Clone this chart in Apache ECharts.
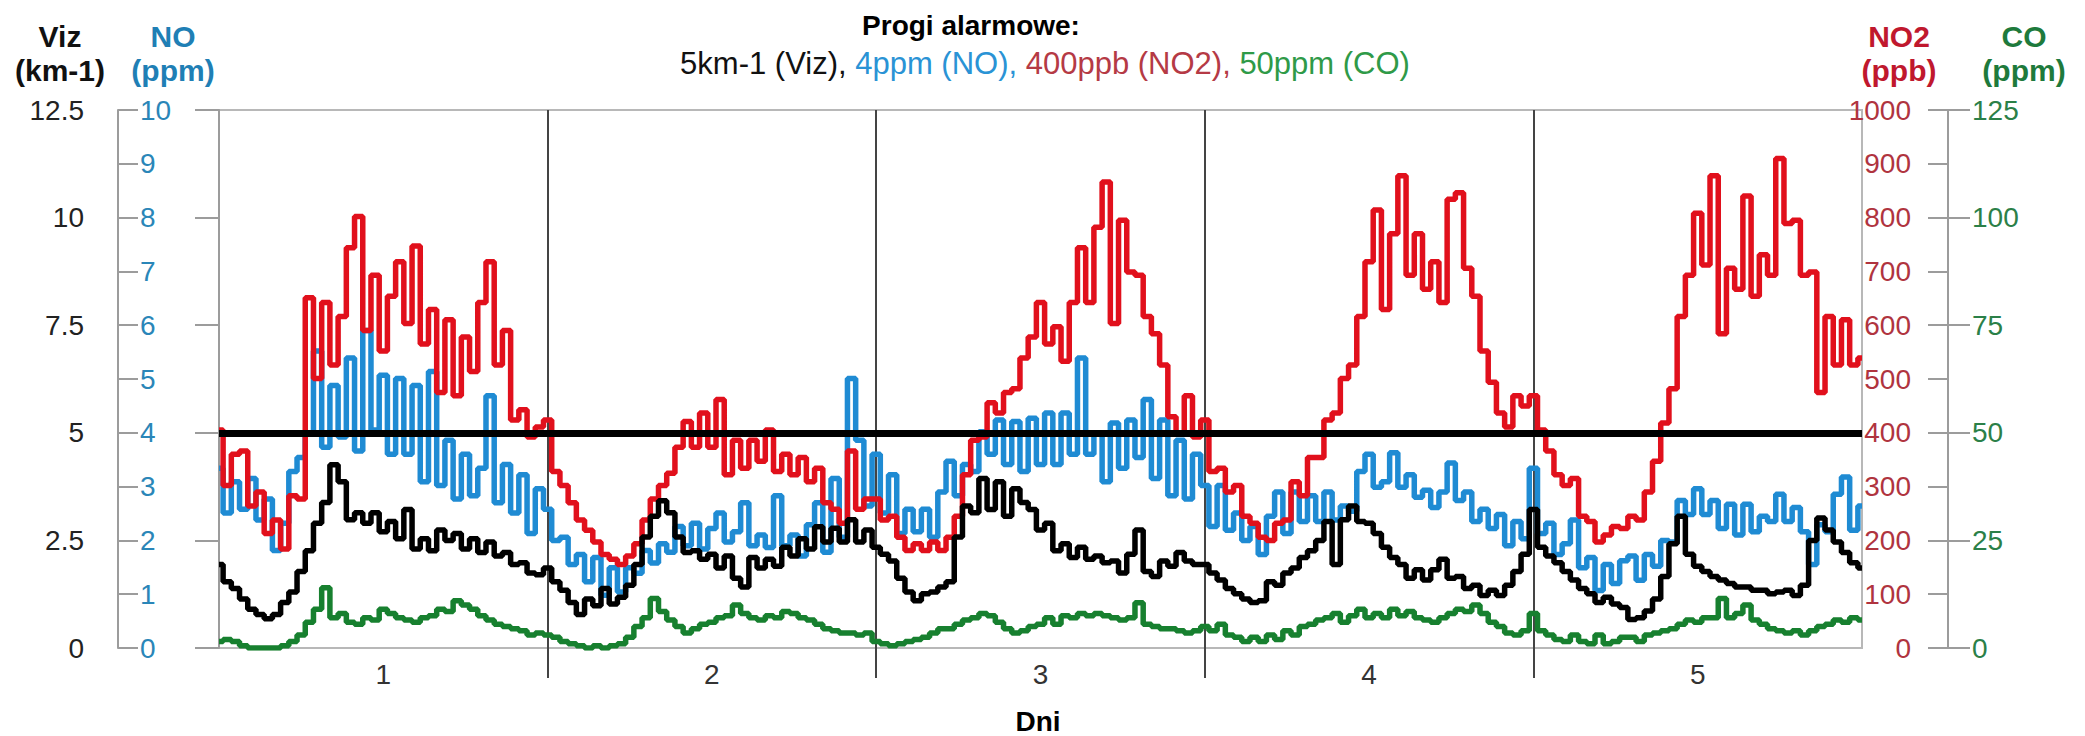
<!DOCTYPE html>
<html>
<head>
<meta charset="utf-8">
<script src="https://cdn.jsdelivr.net/npm/echarts@6/dist/echarts.min.js"></script>
<style>
  html, body { margin: 0; padding: 0; background: #fff; }
  #chart { width: 2085px; height: 736px; }
</style>
</head>
<body>
<div id="chart"></div>
<script>
// Dni (etykiety osi X)
const days = ['1', '2', '3', '4', '5'];
// 40 odczytów na dzień
const samplesPerDay = 40;

// Viz (km-1)
const viz = [
  1.94,1.54,1.38,1.14,0.90,0.78,0.68,0.78,1.06,1.30,1.78,2.26,2.90,3.38,4.26,3.86,2.98,3.14,2.90,3.14,2.70,2.94,2.54,3.22,2.30,2.54,2.26,2.74,2.50,2.66,2.30,2.54,2.22,2.46,2.14,2.22,1.94,1.98,1.74,1.70,
  1.86,1.54,1.34,1.06,0.78,1.14,0.98,1.38,1.02,1.18,1.46,1.94,2.58,3.06,3.42,3.14,2.58,2.22,2.26,2.06,2.18,1.86,2.14,1.62,1.42,2.10,1.86,2.06,1.90,2.34,2.14,2.54,2.30,2.82,2.46,2.78,2.46,2.98,2.46,2.74,
  2.34,2.18,2.02,1.62,1.30,1.10,1.26,1.30,1.42,1.54,2.58,3.30,3.14,3.94,3.22,3.86,3.06,3.70,3.38,3.22,2.74,2.90,2.26,2.42,2.10,2.34,2.06,2.14,1.98,2.02,1.74,2.18,2.74,1.78,1.66,2.02,1.90,2.22,2.02,1.94,
  1.94,1.74,1.58,1.38,1.26,1.14,1.06,1.10,1.54,1.46,1.74,1.86,2.10,2.26,2.50,2.94,1.94,2.98,3.30,2.94,2.90,2.66,2.34,2.10,1.94,1.62,1.82,1.58,1.82,2.06,1.62,1.66,1.38,1.46,1.22,1.34,1.22,1.46,1.78,2.18,
  3.22,2.34,2.14,1.98,1.78,1.58,1.38,1.26,1.06,1.18,1.02,0.94,0.66,0.70,0.86,1.14,1.66,2.42,3.06,2.18,1.90,1.78,1.66,1.58,1.50,1.42,1.42,1.34,1.34,1.26,1.30,1.34,1.22,1.46,2.50,3.02,2.74,2.46,2.22,1.98,
  1.86
];

// NO (ppm)
const no = [
  3.34,2.51,3.09,2.58,3.15,2.38,2.77,1.81,2.32,3.28,3.54,3.98,5.52,3.73,4.88,3.92,5.39,3.66,5.90,4.05,5.07,3.60,5.01,3.60,4.88,3.09,5.14,3.02,3.86,2.77,3.60,2.83,3.34,4.69,2.70,3.41,2.51,3.22,2.13,2.96,
  2.58,2.00,2.06,1.55,1.74,1.23,1.68,0.98,1.49,1.04,1.49,1.39,1.81,1.58,1.94,1.78,2.26,1.90,2.32,1.84,2.22,2.51,1.97,2.16,2.70,1.90,2.10,1.87,2.83,1.90,2.10,1.71,2.29,2.70,1.78,3.15,2.06,5.01,3.86,2.64,
  3.60,2.51,3.22,2.13,2.58,2.16,2.58,2.06,2.90,3.47,2.83,3.41,3.28,4.02,3.60,4.24,3.41,4.21,3.28,4.27,3.41,4.37,3.41,4.37,3.60,5.39,3.60,3.98,3.09,4.18,3.34,4.24,3.54,4.62,3.15,4.24,2.83,3.86,2.77,3.60,
  3.02,2.26,3.02,2.19,2.51,2.00,2.26,1.74,2.45,2.90,2.13,2.90,2.35,2.83,2.35,2.90,2.38,2.64,2.54,3.28,3.60,2.99,3.09,3.63,2.99,3.22,2.80,2.93,2.61,2.90,3.44,2.74,2.90,2.35,2.58,2.22,2.48,1.90,2.35,2.03,
  3.34,2.13,2.32,1.74,1.94,2.38,1.49,1.68,1.07,1.55,1.20,1.62,1.71,1.26,1.74,1.52,2.00,1.97,2.74,2.48,2.96,2.48,2.74,2.22,2.67,2.10,2.67,2.16,2.45,2.35,2.86,2.35,2.61,2.16,1.55,2.29,2.16,2.86,3.18,2.19,
  2.64
];

// NO2 (ppb)
const no2 = [
  405,302,360,366,264,290,213,238,184,283,277,651,501,642,526,616,744,802,590,693,552,654,718,603,747,565,629,475,610,469,578,514,642,718,526,590,424,443,392,411,
  424,328,302,270,238,219,197,174,165,155,171,194,238,277,302,325,373,421,373,437,373,462,322,386,334,386,347,405,328,360,322,354,309,334,270,258,232,366,258,277,
  277,238,245,206,181,194,181,197,181,206,245,322,386,392,456,437,475,482,539,578,642,565,597,533,642,744,642,782,866,603,795,699,693,616,584,526,430,398,469,392,
  424,328,334,290,302,245,232,206,200,232,238,309,283,354,354,424,437,501,526,616,718,814,629,770,878,693,770,667,718,642,834,846,706,654,552,494,437,411,469,450,
  469,405,366,322,302,315,245,235,197,210,226,222,245,238,290,347,418,482,616,693,808,712,878,584,706,667,840,654,731,693,910,789,795,693,699,475,616,526,610,526,
  539
];

// CO (ppm)
const co = [
  1.5,2,1.5,0.5,0,0,0,0,0.5,1.5,3,6,9,14,7,8,6,5.5,7,6.5,9,8,7,6.5,6,7,7.5,9,8.5,11,10,9,7.5,6.5,5.5,5,4.5,4,3,3.5,
  3,2.5,1.5,1,0.5,0,0.5,0,0.5,1,2.5,5,7,11.5,8.5,6.5,5,3.5,4.5,5.5,6,7,7.5,10,8,7,6.5,7.5,7,8.5,8,7,6.5,5.5,4.5,4,3.5,3.5,3,3.5,
  1.5,1,0.5,1,1.5,2,2.5,3.5,4.5,4.5,5.5,6.5,7,8,7.5,6,4.5,3.5,4,5,5.5,7,5.5,7.5,7,8,7.5,8,7.5,7,6.5,7,10.5,5.5,5,4.5,4.5,4,3.5,4,
  5,4,5.5,3,2.5,1.5,2.5,1.5,3,2,4,3,5,5.5,6.5,7,8,6,7.5,9,7,8,7,9,7.5,8.5,7,6.5,6,7,8,9,8.5,10,8,6,5,3.5,3,4,
  8,4,3,2,1.5,3,1.5,1,3,1,1.5,2.5,2.5,1.5,3,3.5,4,4.5,5.5,6.5,6,7,7,11.5,7,8,10,6.5,5.5,4.5,4,3.5,4,3,4,5,5.5,6.5,6,7,
  6.5
];

// Progi alarmowe
const vizThreshold = 5;

function toPoints(values) {
    return values.map((v, i) => [i / samplesPerDay, v]);
}

const chartDom = document.getElementById('chart');
const myChart = echarts.init(chartDom, null, { renderer: 'svg' });

const FONT = 'Liberation Sans, Arial, sans-serif';
const axisGray = '#9c9c9c';
const LINE_W = 5.5;

function headerText(text, x, y, color, size, weight) {
    return {
        type: 'text',
        x: x,
        y: y,
        style: {
            text: text,
            fill: color,
            font: (weight || 'bold') + ' ' + size + 'px ' + FONT,
            textAlign: 'center',
            textVerticalAlign: 'middle'
        }
    };
}

const option = {
    backgroundColor: '#fff',
    animation: false,
    grid: {
        left: 219,
        right: 223,
        top: 110,
        bottom: 88,
        show: true,
        borderColor: '#b8b8b8',
        borderWidth: 2,
        backgroundColor: 'transparent'
    },
    graphic: [
        headerText('Viz', 60, 36, '#111', 30),
        headerText('(km-1)', 60, 70, '#111', 30),
        headerText('NO', 173, 36, '#1f7fb5', 30),
        headerText('(ppm)', 173, 70, '#1f7fb5', 30),
        headerText('NO2', 1899, 36, '#c0182e', 30),
        headerText('(ppb)', 1899, 70, '#c0182e', 30),
        headerText('CO', 2024, 36, '#1e7a3c', 30),
        headerText('(ppm)', 2024, 70, '#1e7a3c', 30),
        headerText('Progi alarmowe:', 971, 25, '#000', 28),
        {
            type: 'text',
            x: 1045,
            y: 63,
            style: {
                text: '{k|5km-1 (Viz), }{b|4ppm (NO), }{r|400ppb (NO2), }{g|50ppm (CO)}',
                font: '31px ' + FONT,
                textAlign: 'center',
                textVerticalAlign: 'middle',
                rich: {
                    k: { fill: '#111', font: '31px ' + FONT },
                    b: { fill: '#2a93d5', font: '31px ' + FONT },
                    r: { fill: '#b53a45', font: '31px ' + FONT },
                    g: { fill: '#2f9a48', font: '31px ' + FONT }
                }
            }
        },
        headerText('Dni', 1038, 721, '#000', 28)
    ],
    xAxis: {
        type: 'value',
        min: 0,
        max: 5,
        interval: 1,
        axisLine: { show: false },
        axisTick: {
            show: true,
            customValues: [1, 2, 3, 4],
            length: 30,
            lineStyle: { color: '#444', width: 2 }
        },
        axisLabel: {
            customValues: [0.5, 1.5, 2.5, 3.5, 4.5],
            formatter: function (v) { return days[Math.floor(v)]; },
            fontSize: 28,
            fontFamily: FONT,
            color: '#333',
            margin: 12
        },
        splitLine: {
            show: true,
            lineStyle: { color: '#444', width: 2 }
        }
    },
    yAxis: [
        {
            // Viz
            type: 'value',
            position: 'left',
            offset: 101,
            min: 0,
            max: 12.5,
            interval: 2.5,
            axisLine: { show: true, lineStyle: { color: axisGray, width: 2 } },
            axisTick: { show: true, length: 24, lineStyle: { color: axisGray, width: 2 } },
            axisLabel: { margin: 34, fontSize: 28, fontFamily: FONT, color: '#222' },
            splitLine: { show: false }
        },
        {
            // NO
            type: 'value',
            position: 'left',
            offset: 101,
            min: 0,
            max: 10,
            interval: 1,
            axisLine: { show: true, lineStyle: { color: axisGray, width: 2 } },
            axisTick: { show: true, inside: true, length: 20, lineStyle: { color: axisGray, width: 2 } },
            axisLabel: { inside: true, margin: 22, fontSize: 28, fontFamily: FONT, color: '#2a86b8' },
            splitLine: { show: false }
        },
        {
            // NO2
            type: 'value',
            position: 'right',
            offset: 86,
            min: 0,
            max: 1000,
            interval: 100,
            axisLine: { show: true, lineStyle: { color: axisGray, width: 2 } },
            axisTick: { show: true, inside: true, length: 20, lineStyle: { color: axisGray, width: 2 } },
            axisLabel: {
                inside: true,
                margin: 37,
                fontSize: 28,
                fontFamily: FONT,
                color: '#b0343f',
                formatter: function (v) { return String(v); }
            },
            splitLine: { show: false }
        },
        {
            // CO
            type: 'value',
            position: 'right',
            offset: 86,
            min: 0,
            max: 125,
            interval: 25,
            axisLine: { show: true, lineStyle: { color: axisGray, width: 2 } },
            axisTick: { show: true, length: 22, lineStyle: { color: axisGray, width: 2 } },
            axisLabel: { margin: 24, fontSize: 28, fontFamily: FONT, color: '#2b8048' },
            splitLine: { show: false }
        }
    ],
    series: [
        {
            name: 'NO',
            type: 'line',
            yAxisIndex: 1,
            step: 'middle',
            showSymbol: false,
            data: toPoints(no),
            lineStyle: { color: '#1f8bd3', width: LINE_W },
            z: 2
        },
        {
            name: 'NO2',
            type: 'line',
            yAxisIndex: 2,
            step: 'middle',
            showSymbol: false,
            data: toPoints(no2),
            lineStyle: { color: '#e1101c', width: LINE_W },
            z: 3
        },
        {
            name: 'Viz',
            type: 'line',
            yAxisIndex: 0,
            step: 'middle',
            showSymbol: false,
            data: toPoints(viz),
            lineStyle: { color: '#000', width: LINE_W },
            z: 4,
            markLine: {
                silent: true,
                symbol: ['none', 'none'],
                label: { show: false },
                lineStyle: { color: '#000', width: 7, type: 'solid' },
                data: [{ yAxis: vizThreshold }]
            }
        },
        {
            name: 'CO',
            type: 'line',
            yAxisIndex: 3,
            step: 'middle',
            showSymbol: false,
            data: toPoints(co),
            lineStyle: { color: '#17802f', width: LINE_W },
            z: 5
        }
    ]
};

myChart.setOption(option);
</script>
</body>
</html>
